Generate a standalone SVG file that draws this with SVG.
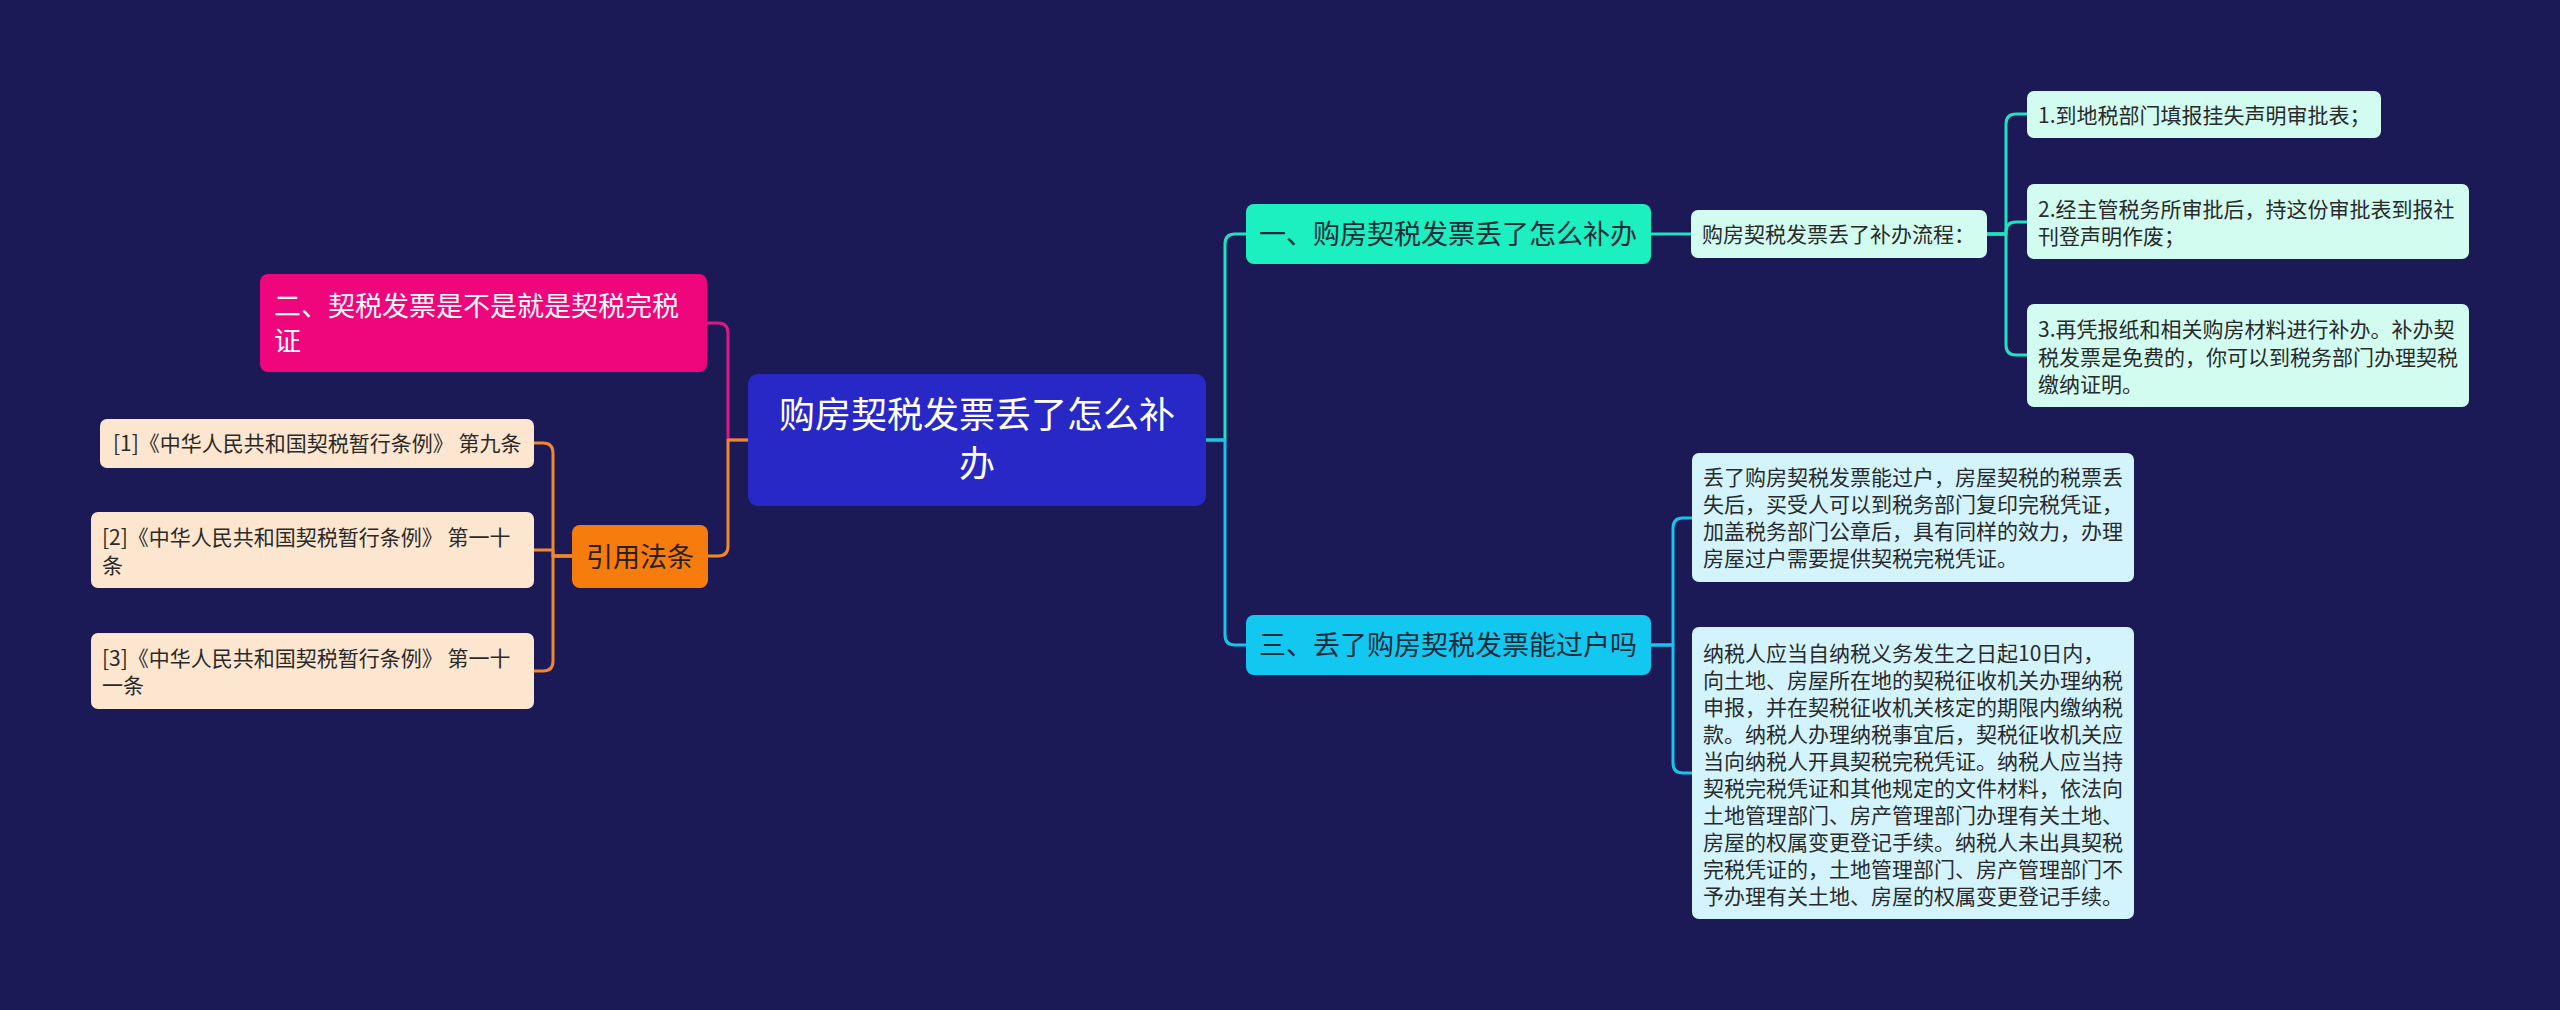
<svg xmlns="http://www.w3.org/2000/svg" width="2560" height="1010" viewBox="0 0 2560 1010">
<style>
text{font-family:"Noto Sans CJK SC","Noto Sans",sans-serif}
.c{fill:none;stroke-width:3;stroke-linecap:round;stroke-linejoin:round}
.t{stroke:#1fe3c0}.cy{stroke:#18c4ee}.pk{stroke:#d81a82}.or{stroke:#ee872e}
.s21{font-size:21px;fill:#2a2a2a}
.s27{font-size:27px}
</style>
<rect width="2560" height="1010" fill="#1b1a56"/>
<g id="connectors">
<path class="c t" d="M1206 440 H1225 V244 Q1225 234 1235 234 H1246"/>
<path class="c cy" d="M1206 440 H1225 V635 Q1225 645 1235 645 H1246"/>
<path class="c t" d="M1651 234 H1691"/>
<path class="c t" d="M1987 234 H2006 V124 Q2006 114 2016 114 H2027"/>
<path class="c t" d="M1987 234 H2006 V232 Q2006 222 2016 222 H2027"/>
<path class="c t" d="M1987 234 H2006 V345 Q2006 355 2016 355 H2027"/>
<path class="c cy" d="M1651 645 H1673 V528 Q1673 518 1683 518 H1692"/>
<path class="c cy" d="M1651 645 H1673 V763 Q1673 773 1683 773 H1692"/>
<path class="c pk" d="M748 440 H728 V333 Q728 323 718 323 H707"/>
<path class="c or" d="M748 440 H728 V546 Q728 556 718 556 H708"/>
<path class="c or" d="M572 556 H553 V453 Q553 443 543 443 H534"/>
<path class="c or" d="M572 556 H553 V550 H534"/>
<path class="c or" d="M572 556 H553 V661 Q553 671 543 671 H534"/>
</g>
<g id="root">
<rect x="748" y="374" width="458" height="132" rx="10" fill="#2828c6"/>
<text x="977" y="428" font-size="36" fill="#ffffff" text-anchor="middle">购房契税发票丢了怎么补</text>
<text x="977" y="477" font-size="36" fill="#ffffff" text-anchor="middle">办</text>
</g>
<g id="n2">
<rect x="260" y="274" width="447" height="98" rx="8" fill="#f0067c"/>
<text x="274" y="316" class="s27" fill="#ffffff">二、契税发票是不是就是契税完税</text>
<text x="274" y="351" class="s27" fill="#ffffff">证</text>
</g>
<g id="ref">
<rect x="572" y="525" width="136" height="63" rx="8" fill="#f77c0e"/>
<text x="640" y="567" class="s27" fill="#2a2018" text-anchor="middle">引用法条</text>
</g>
<g id="ref1">
<rect x="100" y="419" width="434" height="49" rx="7" fill="#fde6cf"/>
<text x="113" y="451" class="s21">[1]《中华人民共和国契税暂行条例》 第九条</text>
</g>
<g id="ref2">
<rect x="91" y="512" width="443" height="76" rx="7" fill="#fde6cf"/>
<text x="102" y="545" class="s21">[2]《中华人民共和国契税暂行条例》 第一十</text>
<text x="102" y="573" class="s21">条</text>
</g>
<g id="ref3">
<rect x="91" y="633" width="443" height="76" rx="7" fill="#fde6cf"/>
<text x="102" y="666" class="s21">[3]《中华人民共和国契税暂行条例》 第一十</text>
<text x="102" y="693" class="s21">一条</text>
</g>
<g id="n1">
<rect x="1246" y="204" width="405" height="60" rx="8" fill="#1cefc0"/>
<text x="1259" y="244" class="s27" fill="#1d2a38">一、购房契税发票丢了怎么补办</text>
</g>
<g id="n1a">
<rect x="1691" y="210" width="296" height="48" rx="7" fill="#d2fcf0"/>
<text x="1702" y="242" class="s21">购房契税发票丢了补办流程：</text>
</g>
<g id="n1a1">
<rect x="2027" y="91" width="354" height="47" rx="7" fill="#d2fcf0"/>
<text x="2038" y="123" class="s21">1.到地税部门填报挂失声明审批表；</text>
</g>
<g id="n1a2">
<rect x="2027" y="184" width="442" height="75" rx="7" fill="#d2fcf0"/>
<text x="2038" y="217" class="s21">2.经主管税务所审批后，持这份审批表到报社</text>
<text x="2038" y="244" class="s21">刊登声明作废；</text>
</g>
<g id="n1a3">
<rect x="2027" y="304" width="442" height="103" rx="7" fill="#d2fcf0"/>
<text x="2038" y="337" class="s21">3.再凭报纸和相关购房材料进行补办。补办契</text>
<text x="2038" y="365" class="s21">税发票是免费的，你可以到税务部门办理契税</text>
<text x="2038" y="392" class="s21">缴纳证明。</text>
</g>
<g id="n3">
<rect x="1246" y="615" width="405" height="60" rx="8" fill="#12c8f0"/>
<text x="1259" y="655" class="s27" fill="#1d2a38">三、丢了购房契税发票能过户吗</text>
</g>
<g id="n3a">
<rect x="1692" y="453" width="442" height="129" rx="7" fill="#d3f4fc"/>
<text x="1703" y="485" class="s21">丢了购房契税发票能过户，房屋契税的税票丢</text>
<text x="1703" y="512" class="s21">失后，买受人可以到税务部门复印完税凭证，</text>
<text x="1703" y="539" class="s21">加盖税务部门公章后，具有同样的效力，办理</text>
<text x="1703" y="566" class="s21">房屋过户需要提供契税完税凭证。</text>
</g>
<g id="n3b">
<rect x="1692" y="627" width="442" height="292" rx="7" fill="#d3f4fc"/>
<text x="1703" y="661" class="s21">纳税人应当自纳税义务发生之日起10日内，</text>
<text x="1703" y="688" class="s21">向土地、房屋所在地的契税征收机关办理纳税</text>
<text x="1703" y="715" class="s21">申报，并在契税征收机关核定的期限内缴纳税</text>
<text x="1703" y="742" class="s21">款。纳税人办理纳税事宜后，契税征收机关应</text>
<text x="1703" y="769" class="s21">当向纳税人开具契税完税凭证。纳税人应当持</text>
<text x="1703" y="796" class="s21">契税完税凭证和其他规定的文件材料，依法向</text>
<text x="1703" y="823" class="s21">土地管理部门、房产管理部门办理有关土地、</text>
<text x="1703" y="850" class="s21">房屋的权属变更登记手续。纳税人未出具契税</text>
<text x="1703" y="877" class="s21">完税凭证的，土地管理部门、房产管理部门不</text>
<text x="1703" y="904" class="s21">予办理有关土地、房屋的权属变更登记手续。</text>
</g>
</svg>
